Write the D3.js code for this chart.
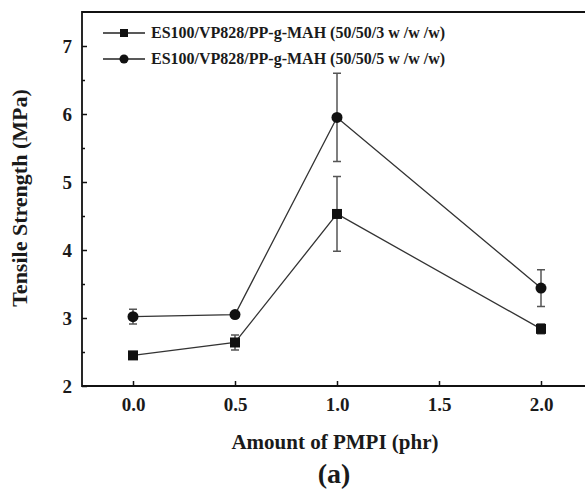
<!DOCTYPE html>
<html><head><meta charset="utf-8">
<script src="https://cdn.jsdelivr.net/npm/d3@7"></script>
<style>body{margin:0;background:#fff}svg{display:block}
svg text{font-family:"Liberation Serif","Times New Roman",serif;font-weight:bold;fill:#1a1a1a}</style>
</head><body>
<svg id="c" width="585" height="489"></svg>
<script>
const xValues = [0.0, 0.5, 1.0, 2.0];
const series1Values = [2.45, 2.64, 4.53, 2.84];
const series1Errors = [0.03, 0.11, 0.55, 0.07];
const series2Values = [3.02, 3.05, 5.95, 3.44];
const series2Errors = [0.11, 0.03, 0.65, 0.27];
const seriesNames = ["ES100/VP828/PP-g-MAH (50/50/3 w /w /w)", "ES100/VP828/PP-g-MAH (50/50/5 w /w /w)"];
const xTickValues = [0.0, 0.5, 1.0, 1.5, 2.0];
const yTickValues = [2, 3, 4, 5, 6, 7];
const yMinorTicks = [2.5, 3.5, 4.5, 5.5, 6.5];

const svg = d3.select("#c");
const x = d3.scaleLinear().domain([-0.25, 2.25]).range([82, 592]);
const y = d3.scaleLinear().domain([2, 7.5]).range([386, 12]);

svg.append("path").attr("d", `M${x(2.25)},${y(7.5)}H${x(-0.25)}V${y(2)}H${x(2.25)}`)
  .attr("fill", "none").attr("stroke", "#111").attr("stroke-width", 1.8);

const yAxis = d3.axisLeft(y).tickValues(yTickValues).tickSize(-5).tickPadding(10).tickFormat(d3.format("d"));
const gy = svg.append("g").attr("transform", `translate(${x(-0.25)},0)`).call(yAxis);
gy.attr("font-family", null).attr("font-size", null);
gy.select(".domain").remove();
gy.selectAll("line").attr("stroke", "#111").attr("stroke-width", 1.5);
gy.selectAll("text").style("font-size", "19px").attr("fill", null);
const yMinor = d3.axisLeft(y).tickValues(yMinorTicks).tickSize(-3).tickFormat("");
const gym = svg.append("g").attr("transform", `translate(${x(-0.25)},0)`).call(yMinor);
gym.select(".domain").remove();
gym.selectAll("line").attr("stroke", "#111").attr("stroke-width", 1.5);

const xAxis = d3.axisBottom(x).tickValues(xTickValues).tickSize(-5).tickPadding(12).tickFormat(d3.format(".1f"));
const gx = svg.append("g").attr("transform", `translate(0,${y(2)})`).call(xAxis);
gx.attr("font-family", null).attr("font-size", null);
gx.select(".domain").remove();
gx.selectAll("line").attr("stroke", "#111").attr("stroke-width", 1.5);
gx.selectAll("text").style("font-size", "19px").attr("fill", null);

svg.append("text").attr("transform", "translate(27,198) rotate(-90)").attr("text-anchor", "middle")
  .style("font-size", "22px").text("Tensile Strength (MPa)");
svg.append("text").attr("x", 335).attr("y", 449).attr("text-anchor", "middle")
  .style("font-size", "21px").text("Amount of PMPI (phr)");
svg.append("text").attr("x", 334).attr("y", 483).attr("text-anchor", "middle")
  .style("font-size", "28px").text("(a)");

const line = d3.line().x(d => x(d[0])).y(d => y(d[1]));
const allSeries = [
  {vals: series1Values, errs: series1Errors, shape: "square"},
  {vals: series2Values, errs: series2Errors, shape: "circle"}
];
allSeries.forEach(s => {
  const pts = xValues.map((xv, i) => [xv, s.vals[i], s.errs[i]]);
  const g = svg.append("g");
  pts.forEach(p => {
    const xp = x(p[0]), y1 = y(p[1] + p[2]), y2 = y(p[1] - p[2]);
    g.append("path").attr("d", `M${xp},${y1}V${y2}M${xp-4},${y1}H${xp+4}M${xp-4},${y2}H${xp+4}`)
      .attr("stroke", "#555").attr("stroke-width", 1.5).attr("fill", "none");
  });
  g.append("path").attr("d", line(pts)).attr("fill", "none").attr("stroke", "#333").attr("stroke-width", 1.3);
  pts.forEach(p => {
    if (s.shape === "square") {
      g.append("rect").attr("x", x(p[0]) - 5).attr("y", y(p[1]) - 5).attr("width", 10).attr("height", 10).attr("fill", "#111");
    } else {
      g.append("circle").attr("cx", x(p[0])).attr("cy", y(p[1])).attr("r", 5.5).attr("fill", "#111");
    }
  });
});

const legendY = [33, 59];
seriesNames.forEach((name, i) => {
  const ly = legendY[i];
  svg.append("line").attr("x1", 103).attr("x2", 145).attr("y1", ly).attr("y2", ly).attr("stroke", "#222").attr("stroke-width", 1.3);
  if (i === 0) svg.append("rect").attr("x", 120).attr("y", ly - 4).attr("width", 8).attr("height", 8).attr("fill", "#111");
  else svg.append("circle").attr("cx", 124).attr("cy", ly).attr("r", 4.5).attr("fill", "#111");
  svg.append("text").attr("x", 151).attr("y", ly + 5).style("font-size", "16px").text(name);
});
</script>
</body></html>
